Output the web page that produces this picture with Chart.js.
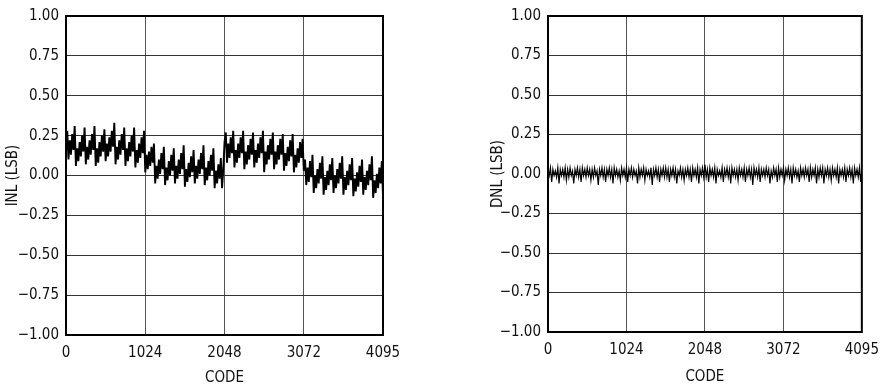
<!DOCTYPE html>
<html>
<head>
<meta charset="utf-8">
<script src="https://cdn.jsdelivr.net/npm/chart.js@4.4.1/dist/chart.umd.min.js"></script>
<style>
  html, body { margin: 0; padding: 0; background: #fff; }
  #wrap { position: relative; width: 888px; height: 390px; }
  .panel { position: absolute; top: 0; }
</style>
</head>
<body>
<div id="wrap">
  <div class="panel" style="left:0"><canvas id="inlChart" width="440" height="390"></canvas></div>
  <div class="panel" style="left:470px"><canvas id="dnlChart" width="418" height="390"></canvas></div>
</div>
<script>
// x axis ticks (codes) and y axis range
const xTicks = [0, 1024, 2048, 3072, 4095];
const yMin = -1, yMax = 1, yStep = 0.25;

// INL (LSB), one sample every 16 codes
const inlValues = [
  0.15, 0.28, 0.10, 0.22, 0.13, 0.26, 0.16, 0.31,
  0.06, 0.17, 0.09, 0.21, 0.12, 0.25, 0.15, 0.30,
  0.07, 0.18, 0.10, 0.22, 0.13, 0.26, 0.16, 0.31,
  0.06, 0.17, 0.08, 0.21, 0.12, 0.25, 0.15, 0.29,
  0.09, 0.20, 0.12, 0.24, 0.15, 0.28, 0.18, 0.33,
  0.07, 0.18, 0.10, 0.22, 0.13, 0.26, 0.16, 0.30,
  0.06, 0.17, 0.09, 0.21, 0.12, 0.25, 0.15, 0.30,
  0.05, 0.16, 0.08, 0.20, 0.11, 0.24, 0.14, 0.28,
  0.02, 0.13, 0.04, 0.15, 0.06, 0.18, 0.08, 0.20,
  -0.05, 0.06, -0.02, 0.10, 0.01, 0.14, 0.04, 0.18,
  -0.06, 0.05, -0.03, 0.09, 0.00, 0.13, 0.03, 0.17,
  -0.05, 0.06, -0.02, 0.10, 0.01, 0.14, 0.04, 0.19,
  -0.07, 0.04, -0.04, 0.08, -0.01, 0.12, 0.02, 0.16,
  -0.05, 0.06, -0.02, 0.10, 0.01, 0.14, 0.04, 0.19,
  -0.06, 0.05, -0.03, 0.09, 0.00, 0.13, 0.03, 0.17,
  -0.08, 0.03, -0.05, 0.07, -0.02, 0.11, -0.08, 0.04,
  0.21, 0.27, 0.08, 0.20, 0.11, 0.24, 0.14, 0.28,
  0.05, 0.16, 0.08, 0.20, 0.11, 0.24, 0.14, 0.28,
  0.04, 0.15, 0.07, 0.19, 0.10, 0.23, 0.13, 0.27,
  0.05, 0.16, 0.08, 0.20, 0.11, 0.24, 0.14, 0.28,
  0.02, 0.15, 0.07, 0.19, 0.10, 0.23, 0.13, 0.27,
  0.04, 0.15, 0.07, 0.19, 0.10, 0.23, 0.13, 0.26,
  0.03, 0.14, 0.06, 0.18, 0.09, 0.22, 0.12, 0.26,
  0.02, 0.13, 0.05, 0.17, 0.08, 0.21, 0.11, 0.23,
  0.03, 0.10, -0.06, 0.05, -0.04, 0.09, -0.01, 0.13,
  -0.11, 0.00, -0.08, 0.04, -0.05, 0.08, -0.02, 0.12,
  -0.12, -0.01, -0.09, 0.03, -0.06, 0.07, -0.03, 0.11,
  -0.11, 0.00, -0.08, 0.04, -0.05, 0.08, -0.02, 0.12,
  -0.12, -0.01, -0.09, 0.03, -0.06, 0.07, -0.03, 0.11,
  -0.13, -0.02, -0.10, 0.02, -0.07, 0.06, -0.04, 0.10,
  -0.12, -0.01, -0.09, 0.03, -0.06, 0.07, -0.03, 0.12,
  -0.14, -0.03, -0.11, 0.01, -0.08, 0.05, -0.05, 0.09,
  -0.13
];

// DNL (LSB), one sample every 16 codes
const dnlValues = [
  0.03, -0.01, 0.04, -0.05, 0.03, -0.01, 0.02, -0.02, 0.04, -0.06, 0.03, -0.01, 0.03, -0.02, 0.04, -0.04,
  0.03, -0.02, 0.04, -0.01, 0.02, -0.06, 0.03, -0.01, 0.04, -0.02, 0.03, -0.05, 0.04, -0.01, 0.03, -0.02,
  0.04, -0.01, 0.03, -0.04, 0.03, -0.02, 0.04, -0.01, 0.02, -0.07, 0.03, -0.01, 0.04, -0.02, 0.03, -0.05,
  0.03, -0.01, 0.04, -0.02, 0.03, -0.06, 0.04, -0.01, 0.03, -0.02, 0.02, -0.04, 0.04, -0.01, 0.03, -0.02,
  0.04, -0.05, 0.03, -0.01, 0.04, -0.02, 0.03, -0.01, 0.02, -0.06, 0.04, -0.02, 0.03, -0.01, 0.04, -0.04,
  0.03, -0.01, 0.02, -0.02, 0.04, -0.07, 0.03, -0.01, 0.04, -0.02, 0.03, -0.05, 0.03, -0.01, 0.04, -0.02,
  0.04, -0.02, 0.03, -0.05, 0.03, -0.01, 0.04, -0.02, 0.03, -0.06, 0.02, -0.01, 0.04, -0.02, 0.03, -0.04,
  0.03, -0.01, 0.04, -0.02, 0.03, -0.05, 0.04, -0.01, 0.03, -0.02, 0.04, -0.06, 0.03, -0.01, 0.04, -0.02,
  0.06, -0.02, 0.03, -0.05, 0.04, -0.01, 0.03, -0.02, 0.04, -0.06, 0.03, -0.01, 0.02, -0.02, 0.04, -0.05,
  0.03, -0.01, 0.04, -0.02, 0.03, -0.06, 0.04, -0.01, 0.03, -0.02, 0.03, -0.04, 0.04, -0.01, 0.03, -0.02,
  0.04, -0.05, 0.03, -0.01, 0.04, -0.02, 0.03, -0.07, 0.04, -0.01, 0.03, -0.02, 0.04, -0.05, 0.03, -0.01,
  0.03, -0.02, 0.04, -0.01, 0.03, -0.06, 0.02, -0.02, 0.04, -0.01, 0.03, -0.05, 0.04, -0.02, 0.03, -0.01,
  0.04, -0.04, 0.03, -0.01, 0.04, -0.02, 0.03, -0.06, 0.04, -0.01, 0.03, -0.02, 0.02, -0.05, 0.04, -0.01,
  0.03, -0.02, 0.04, -0.01, 0.03, -0.05, 0.04, -0.02, 0.03, -0.01, 0.04, -0.06, 0.03, -0.02, 0.04, -0.01,
  0.04, -0.06, 0.03, -0.01, 0.04, -0.02, 0.03, -0.04, 0.04, -0.01, 0.03, -0.02, 0.04, -0.06, 0.03, -0.01,
  0.03, -0.02, 0.04, -0.05, 0.03, -0.01, 0.04, -0.02, 0.03, -0.06, 0.04, -0.01, 0.03, -0.02, 0.04, -0.05,
  0.02
];

const FONT = { family: "'Liberation Sans Narrow', 'DejaVu Sans Condensed', sans-serif", size: 15 };
const TEXT = '#111';

// sample codes: every 16th code, last one clipped to full scale
const toPoints = vals => vals.map((v, i) => ({ x: Math.min(i * 16, 4095), y: v }));

// draws the closed black frame round the plot area
const framePlugin = {
    id: 'frame',
    afterDatasetsDraw(chart) {
        const a = chart.chartArea;
        const c = chart.ctx;
        c.save();
        c.strokeStyle = '#000';
        c.lineWidth = 2;
        c.strokeRect(a.left, a.top, a.right - a.left, a.bottom - a.top);
        c.restore();
    }
};

function makeChart(id, values, yTitle, lineWidth, box) {
    return new Chart(document.getElementById(id), {
        type: 'line',
        data: {
            datasets: [{
                data: toPoints(values),
                borderColor: '#000',
                borderWidth: lineWidth,
                pointRadius: 0,
                tension: 0,
                fill: false
            }]
        },
        options: {
            responsive: false,
            animation: false,
            events: [],
            layout: { padding: box.padding },
            plugins: { legend: { display: false }, tooltip: { enabled: false } },
            scales: {
                x: {
                    type: 'linear',
                    min: 0,
                    max: 4095,
                    afterBuildTicks: s => { s.ticks = xTicks.map(v => ({ value: v })); },
                    afterFit: s => { s.height = box.xHeight; },
                    ticks: {
                        color: TEXT,
                        font: FONT,
                        padding: 9,
                        maxRotation: 0,
                        autoSkip: false,
                        callback: v => String(v)
                    },
                    grid: { color: '#555', lineWidth: 1, drawTicks: false },
                    border: { display: false },
                    title: { display: true, text: 'CODE', color: TEXT, font: FONT, padding: { top: 4, bottom: 3 } }
                },
                y: {
                    min: yMin,
                    max: yMax,
                    afterFit: s => { s.width = box.yWidth; },
                    ticks: {
                        stepSize: yStep,
                        color: TEXT,
                        font: FONT,
                        padding: 7,
                        callback: v => v.toFixed(2).replace('-', '\u2212')
                    },
                    grid: { color: '#333', lineWidth: 1, drawTicks: false },
                    border: { display: false },
                    title: { display: true, text: yTitle, color: TEXT, font: FONT, padding: { top: 4, bottom: 4 } }
                }
            }
        },
        plugins: [framePlugin]
    });
}

makeChart('inlChart', inlValues, 'INL (LSB)', 1.9,
    { padding: { left: 0, top: 16, right: 57, bottom: 0 }, yWidth: 66, xHeight: 55 });
makeChart('dnlChart', dnlValues, 'DNL (LSB)', 1.2,
    { padding: { left: 15, top: 14, right: 24, bottom: 1 }, yWidth: 63, xHeight: 57 });
</script>
</body>
</html>
